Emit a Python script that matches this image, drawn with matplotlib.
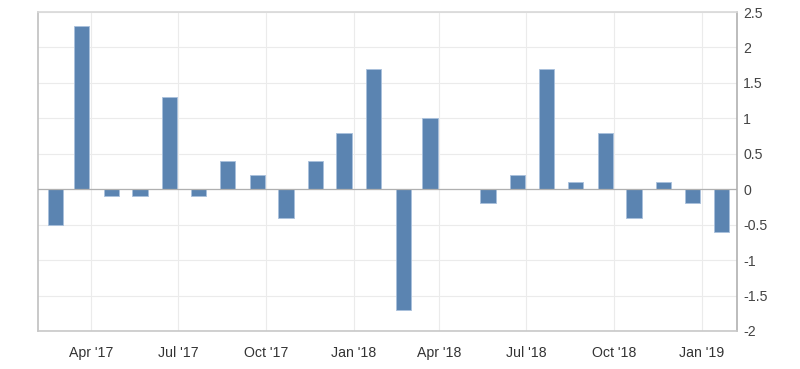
import matplotlib
matplotlib.use("Agg")
import matplotlib.pyplot as plt
import matplotlib.dates as mdates
import datetime as dt

months = ["2017-02", "2017-03", "2017-04", "2017-05", "2017-06", "2017-07",
          "2017-08", "2017-09", "2017-10", "2017-11", "2017-12", "2018-01",
          "2018-02", "2018-03", "2018-04", "2018-05", "2018-06", "2018-07",
          "2018-08", "2018-09", "2018-10", "2018-11", "2018-12", "2019-01"]
values = [-0.5, 2.3, -0.1, -0.1, 1.3, -0.1, 0.4, 0.2, -0.4, 0.4, 0.8, 1.7,
          -1.7, 1.0, 0.0, -0.2, 0.2, 1.7, 0.1, 0.8, -0.4, 0.1, -0.2, -0.6]
tick_dates = ["2017-04-01", "2017-07-01", "2017-10-01", "2018-01-01",
              "2018-04-01", "2018-07-01", "2018-10-01", "2019-01-01"]
tick_labels = ["Apr '17", "Jul '17", "Oct '17", "Jan '18",
               "Apr '18", "Jul '18", "Oct '18", "Jan '19"]
y_ticks = [-2, -1.5, -1, -0.5, 0, 0.5, 1, 1.5, 2, 2.5]
y_labels = ["-2", "-1.5", "-1", "-0.5", "0", "0.5", "1", "1.5", "2", "2.5"]

plt.rcParams['font.family'] = ['Liberation Sans', 'DejaVu Sans']

fig = plt.figure(figsize=(8.0, 3.69), dpi=100)
ax = fig.add_axes([38 / 800, 1 - 331 / 369, (737 - 38) / 800, (331 - 12) / 369])

x = [mdates.date2num(dt.datetime.strptime(m + "-22", "%Y-%m-%d")) for m in months]
ax.bar(x, values, width=16, color="#5b84b1", edgecolor="#a9c0dc",
       linewidth=0.6, zorder=3)

ax.set_xlim(mdates.date2num(dt.datetime(2017, 2, 4)),
            mdates.date2num(dt.datetime(2019, 2, 7)))
ax.set_ylim(-2, 2.5)

tx = [mdates.date2num(dt.datetime.strptime(d, "%Y-%m-%d")) for d in tick_dates]
ax.set_xticks(tx)
ax.set_xticklabels(tick_labels)
ax.set_yticks(y_ticks)
ax.set_yticklabels(y_labels)

ax.yaxis.tick_right()
ax.tick_params(axis="x", length=0, pad=10.5, labelsize=10.2, colors="#333333")
ax.tick_params(axis="y", length=0, pad=4.5, labelsize=10.2, colors="#444444")
for lbl in ax.get_yticklabels():
    lbl.set_horizontalalignment("left")

ax.grid(True, color="#ebebeb", linewidth=0.8, zorder=0)
ax.axhline(0, color="#b0b0b0", linewidth=0.9, zorder=4)

ax.spines["top"].set_color("#d8d8d8")
ax.spines["left"].set_color("#c0c0c0")
ax.spines["right"].set_color("#b0b0b0")
ax.spines["bottom"].set_color("#c8c8c8")
for s in ax.spines.values():
    s.set_linewidth(1.2)

fig.savefig("out.png", dpi=100, facecolor="white")
